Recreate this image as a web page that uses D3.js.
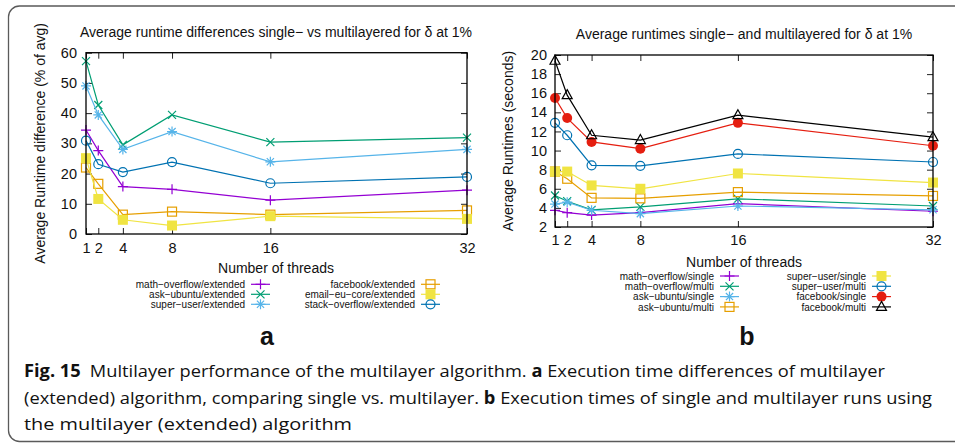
<!DOCTYPE html>
<html>
<head>
<meta charset="utf-8">
<script src="https://cdn.jsdelivr.net/npm/d3@7"></script>
<style>
  html, body { margin: 0; padding: 0; background: #fff; }
  svg { display: block; }
  text { font-family: "Liberation Sans", Arial, sans-serif; fill: #111; }
</style>
</head>
<body>
<svg id="fig" width="955" height="443"></svg>
<script>
// Thread counts (x axis of both panels)
const threads = [1, 2, 4, 8, 16, 32];

// Panel a: runtime difference single vs multilayer (% of avg)
const mathOverflowExt   = [34.4, 27.6, 15.7, 14.8, 11.2, 14.5];
const askUbuntuExt      = [57.2, 42.7, 29.5, 39.4, 30.4, 31.9];
const superUserExt      = [49.0, 39.4, 28.0, 33.9, 23.9, 28.0];
const facebookExt       = [22.0, 16.6, 6.4, 7.4, 6.4, 7.8];
const emailEuCoreExt    = [25.1, 11.6, 4.7, 2.8, 5.9, 5.0];
const stackOverflowExt  = [30.9, 23.1, 20.5, 23.8, 16.8, 18.9];

// Panel b: average runtimes (seconds)
const mathOverflowSingle = [3.75, 3.5, 3.25, 3.5, 4.45, 3.65];
const mathOverflowMulti  = [5.3, 4.7, 3.8, 4.1, 4.95, 4.2];
const askUbuntuSingle    = [4.4, 4.6, 3.75, 3.4, 4.2, 3.8];
const askUbuntuMulti     = [7.8, 7.05, 5.05, 5.0, 5.65, 5.25];
const superUserSingle    = [7.8, 7.8, 6.35, 6.0, 7.6, 6.65];
const superUserMulti     = [12.9, 11.6, 8.45, 8.4, 9.65, 8.8];
const facebookSingle     = [15.5, 13.4, 10.9, 10.2, 12.9, 10.5];
const facebookMulti      = [19.4, 15.8, 11.6, 11.1, 13.7, 11.4];

// Tick values
const ticksA = [0, 10, 20, 30, 40, 50, 60];
const ticksB = [2, 4, 6, 8, 10, 12, 14, 16, 18, 20];

const seriesA = [
  { name: "math\u2212overflow/extended",   values: mathOverflowExt,  color: "#9400d3", mark: "plus" },
  { name: "ask\u2212ubuntu/extended",      values: askUbuntuExt,     color: "#009e73", mark: "cross" },
  { name: "super\u2212user/extended",      values: superUserExt,     color: "#56b4e9", mark: "star" },
  { name: "facebook/extended",            values: facebookExt,      color: "#e69f00", mark: "openSquare" },
  { name: "email\u2212eu\u2212core/extended", values: emailEuCoreExt, color: "#f0e442", mark: "fillSquare" },
  { name: "stack\u2212overflow/extended",  values: stackOverflowExt, color: "#0072b2", mark: "openCircle" }
];
const seriesB = [
  { name: "math\u2212overflow/single", values: mathOverflowSingle, color: "#9400d3", mark: "plus" },
  { name: "math\u2212overflow/multi",  values: mathOverflowMulti,  color: "#009e73", mark: "cross" },
  { name: "ask\u2212ubuntu/single",    values: askUbuntuSingle,    color: "#56b4e9", mark: "star" },
  { name: "ask\u2212ubuntu/multi",     values: askUbuntuMulti,     color: "#e69f00", mark: "openSquare" },
  { name: "super\u2212user/single",    values: superUserSingle,    color: "#f0e442", mark: "fillSquare" },
  { name: "super\u2212user/multi",     values: superUserMulti,     color: "#0072b2", mark: "openCircle" },
  { name: "facebook/single",          values: facebookSingle,     color: "#e51e10", mark: "fillCircle" },
  { name: "facebook/multi",           values: facebookMulti,      color: "#000000", mark: "openTriangle" }
];

const svg = d3.select("#fig");

// Outer figure frame with rounded corners
svg.append("rect")
  .attr("x", 8.5).attr("y", 6).attr("width", 1000).attr("height", 435.5)
  .attr("rx", 11).attr("fill", "none").attr("stroke", "#5a5a5a").attr("stroke-width", 1.3);

function drawMarker(g, type, x, y, color) {
  const s = 4.5;
  if (type === "plus") {
    g.append("path").attr("d", `M${x - 5},${y}H${x + 5}M${x},${y - 5}V${y + 5}`)
      .attr("stroke", color).attr("stroke-width", 1.2).attr("fill", "none");
  } else if (type === "cross") {
    g.append("path").attr("d", `M${x - 4},${y - 4}L${x + 4},${y + 4}M${x - 4},${y + 4}L${x + 4},${y - 4}`)
      .attr("stroke", color).attr("stroke-width", 1.2).attr("fill", "none");
  } else if (type === "star") {
    g.append("path").attr("d",
      `M${x - 5},${y}H${x + 5}M${x},${y - 5}V${y + 5}M${x - 3.6},${y - 3.6}L${x + 3.6},${y + 3.6}M${x - 3.6},${y + 3.6}L${x + 3.6},${y - 3.6}`)
      .attr("stroke", color).attr("stroke-width", 1.2).attr("fill", "none");
  } else if (type === "openSquare") {
    g.append("rect").attr("x", x - s).attr("y", y - s).attr("width", 2 * s).attr("height", 2 * s)
      .attr("stroke", color).attr("stroke-width", 1.2).attr("fill", "none");
  } else if (type === "fillSquare") {
    g.append("rect").attr("x", x - 5).attr("y", y - 5).attr("width", 10).attr("height", 10)
      .attr("fill", color);
  } else if (type === "openCircle") {
    g.append("circle").attr("cx", x).attr("cy", y).attr("r", s)
      .attr("stroke", color).attr("stroke-width", 1.2).attr("fill", "none");
  } else if (type === "fillCircle") {
    g.append("circle").attr("cx", x).attr("cy", y).attr("r", 5).attr("fill", color);
  } else if (type === "openTriangle") {
    g.append("path").attr("d", `M${x},${y - 5.5}L${x + 5},${y + 3.5}L${x - 5},${y + 3.5}Z`)
      .attr("stroke", color).attr("stroke-width", 1.2).attr("fill", "none");
  }
}

function drawPanel(cfg) {
  const x = d3.scaleLinear().domain([1, 32]).range([cfg.x0, cfg.x1]);
  const y = d3.scaleLinear().domain(cfg.yDomain).range([cfg.yBottom, cfg.yTop]);
  const g = svg.append("g");

  // Ticks (gnuplot style: inward, mirrored)
  const fontSize = 14.5;
  const bottom = g.append("g").attr("transform", `translate(0,${cfg.yBottom})`)
    .call(d3.axisBottom(x).tickValues(threads).tickSize(-6).tickPadding(cfg.xPad).tickFormat(d3.format("d")));
  const top = g.append("g").attr("transform", `translate(0,${cfg.yTop})`)
    .call(d3.axisTop(x).tickValues(threads).tickSize(-6).tickFormat(""));
  const left = g.append("g").attr("transform", `translate(${cfg.x0},0)`)
    .call(d3.axisLeft(y).tickValues(cfg.ticks).tickSize(-6).tickPadding(cfg.yPad).tickFormat(d3.format("d")));
  const right = g.append("g").attr("transform", `translate(${cfg.x1},0)`)
    .call(d3.axisRight(y).tickValues(cfg.ticks).tickSize(-6).tickFormat(""));
  [bottom, top, left, right].forEach(a => {
    a.select(".domain").remove();
    a.selectAll(".tick line").attr("stroke", "#222").attr("stroke-width", 1);
    a.selectAll(".tick text").attr("font-size", fontSize)
      .attr("font-family", "'Liberation Sans', Arial, sans-serif").attr("fill", "#111");
  });

  // Series lines and points
  cfg.series.forEach(s => {
    const pts = threads.map((t, i) => [x(t), y(s.values[i])]);
    g.append("path").attr("d", d3.line()(pts))
      .attr("fill", "none").attr("stroke", s.color).attr("stroke-width", 1.2);
    pts.forEach(p => drawMarker(g, s.mark, p[0], p[1], s.color));
  });

  // Plot border
  g.append("rect").attr("x", cfg.x0).attr("y", cfg.yTop)
    .attr("width", cfg.x1 - cfg.x0).attr("height", cfg.yBottom - cfg.yTop)
    .attr("fill", "none").attr("stroke", "#000").attr("stroke-width", 1.3);

  // Title and axis labels
  g.append("text").attr("x", cfg.titleX).attr("y", cfg.titleY).attr("text-anchor", "middle")
    .attr("font-size", 14).attr("fill", "#222").text(cfg.title);
  g.append("text").attr("transform", `translate(${cfg.yLabelX},${(cfg.yTop + cfg.yBottom) / 2}) rotate(-90)`)
    .attr("text-anchor", "middle").attr("font-size", 14).attr("fill", "#222").text(cfg.yLabel);
  g.append("text").attr("x", cfg.titleX).attr("y", cfg.xLabelY).attr("text-anchor", "middle")
    .attr("font-size", 14).attr("fill", "#222").text("Number of threads");

  // Legend
  cfg.series.forEach((s, i) => {
    const col = Math.floor(i / cfg.legendRows);
    const row = i % cfg.legendRows;
    const tx = cfg.legendCols[col];
    const cy = cfg.legendY0 + row * cfg.legendStep;
    g.append("text").attr("x", tx).attr("y", cy + 3.6).attr("text-anchor", "end")
      .attr("font-size", 10).attr("fill", "#222").text(s.name);
    g.append("line").attr("x1", tx + 6).attr("x2", tx + 25).attr("y1", cy).attr("y2", cy)
      .attr("stroke", s.color).attr("stroke-width", 1.2);
    drawMarker(g, s.mark, tx + 15.5, cy, s.color);
  });

  // Panel letter
  g.append("text").attr("x", cfg.letterX).attr("y", 345).attr("text-anchor", "middle")
    .attr("font-family", "'Liberation Serif', 'Times New Roman', serif")
    .attr("font-weight", "bold").attr("font-size", 25).text(cfg.letter);
}

drawPanel({
  x0: 86, x1: 467, yTop: 52.7, yBottom: 234, yDomain: [0, 60], ticks: ticksA,
  xPad: 9, yPad: 9, series: seriesA,
  title: "Average runtime differences single\u2212 vs multilayered for \u03b4 at 1%",
  titleX: 276, titleY: 36.5, xLabelY: 273,
  yLabel: "Average Runtime difference (% of avg)", yLabelX: 45,
  legendRows: 3, legendCols: [245, 415], legendY0: 284.3, legendStep: 10,
  letter: "a", letterX: 267
});

drawPanel({
  x0: 555, x1: 933, yTop: 55, yBottom: 227, yDomain: [2, 20], ticks: ticksB,
  xPad: 8, yPad: 8, series: seriesB,
  title: "Average runtimes single\u2212 and multilayered for \u03b4 at 1%",
  titleX: 744, titleY: 38.5, xLabelY: 266.5,
  yLabel: "Average Runtimes (seconds)", yLabelX: 513,
  legendRows: 4, legendCols: [714, 866], legendY0: 276, legendStep: 10.3,
  letter: "b", letterX: 747
});

// Figure caption
const capFont = "'Open Sans', 'Noto Sans', sans-serif";
const captionLines = [
  { y: 377, width: 861, parts: [
    ["Fig. 15", true], ["\u2002Multilayer performance of the multilayer algorithm. ", false], ["a", true],
    [" Execution time differences of multilayer", false]] },
  { y: 403.5, width: 908, parts: [
    ["(extended) algorithm, comparing single vs. multilayer. ", false], ["b", true],
    [" Execution times of single and multilayer runs using", false]] },
  { y: 430, width: 328, parts: [["the multilayer (extended) algorithm", false]] }
];
captionLines.forEach(line => {
  const t = svg.append("text").attr("x", 24).attr("y", line.y)
    .attr("font-family", capFont).attr("font-size", 17).attr("fill", "#231f20")
    .attr("textLength", line.width).attr("lengthAdjust", "spacingAndGlyphs");
  line.parts.forEach(([s, bold]) => {
    t.append("tspan").attr("font-family", capFont)
      .attr("font-weight", bold ? "bold" : "normal").text(s);
  });
});
</script>
</body>
</html>
